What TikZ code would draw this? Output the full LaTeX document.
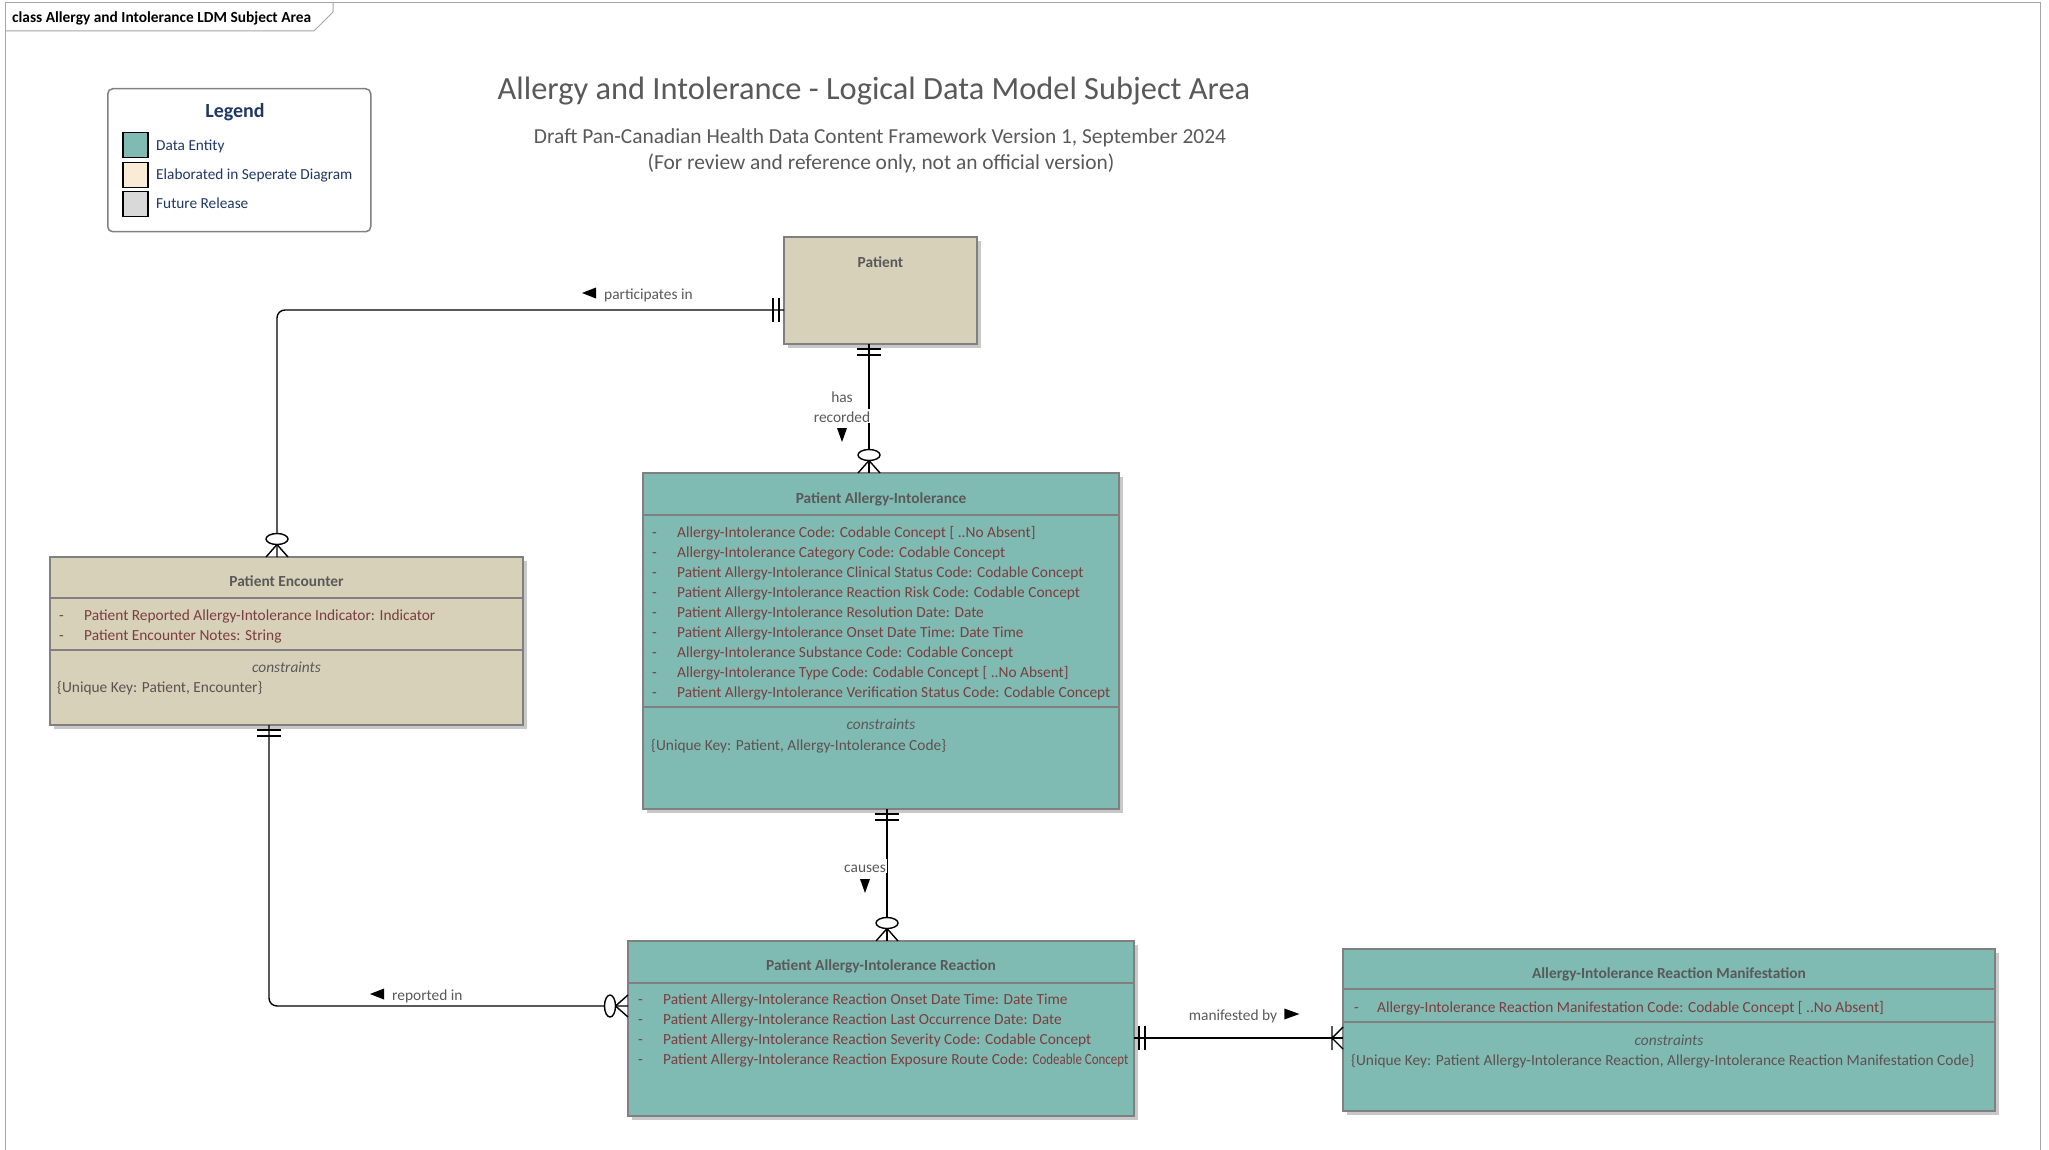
\documentclass[tikz,border=0pt]{standalone}
\usepackage{fontspec}
\setmainfont{Carlito}
\usetikzlibrary{calc,shadows}

\definecolor{entteal}{RGB}{128,187,179}
\definecolor{enttan}{RGB}{216,209,186}
\definecolor{legcream}{RGB}{250,235,215}
\definecolor{leggrey}{RGB}{217,217,217}
\definecolor{boxline}{RGB}{128,128,128}
\definecolor{shadowcol}{RGB}{200,200,200}
\definecolor{attrcol}{RGB}{122,62,62}
\definecolor{headcol}{RGB}{89,89,89}
\definecolor{keycol}{RGB}{95,80,80}
\definecolor{legblue}{RGB}{31,56,100}
\definecolor{framecol}{RGB}{166,166,166}

\newcommand{\sizept}[1]{\fontsize{#1}{#1}\selectfont}

\tikzset{
  entity/.style={draw=boxline, line width=1.3pt, anchor=north west, inner sep=0pt, outer sep=0pt,
    drop shadow={shadow xshift=4pt, shadow yshift=-4pt, fill=shadowcol, opacity=1}},
  divider/.style={draw=boxline, line width=1.3pt},
  txt/.style={inner sep=0pt, text height=12pt, text depth=0pt},
  ename/.style={txt, font=\sizept{15.4}\bfseries, text=headcol},
  attr/.style={txt, anchor=west, font=\sizept{15.4}, text=attrcol},
  cons/.style={txt, font=\sizept{15.4}\itshape, text=headcol},
  ukey/.style={txt, anchor=west, font=\sizept{15.4}, text=keycol},
  rel/.style={line width=1.4pt, rounded corners=8pt},
  rlabel/.style={txt, font=\sizept{15.4}, text=headcol},
  legtext/.style={txt, anchor=west, font=\sizept{15.3}, text=legblue},
  swatch/.style={draw=black, line width=1.5pt, minimum size=25pt, inner sep=0pt, anchor=north west},
  onlyone/.pic={\draw[line width=1.4pt] (-5,-12) -- (-5,12) (-11,-12) -- (-11,12);},
  zeromany/.pic={\draw[line width=1.4pt] (-12.5,0) -- (0,-11) (-12.5,0) -- (0,11);
     \draw[line width=1.4pt, fill=white] (-18,0) ellipse [x radius=5.5, y radius=11];},
  onemany/.pic={\draw[line width=1.4pt] (-11,-12) -- (-11,12) (-11,0) -- (0,-11) (-11,0) -- (0,11);},
}

\begin{document}
\begin{tikzpicture}[x=1pt, y=-1pt]
\useasboundingbox[fill=white] (0,0) rectangle (2049,1150);

% diagram frame and its name tab
\draw[framecol, line width=1pt] (5,1170) -- (5,3) -- (2040,3) -- (2040,1170);
\draw[framecol, line width=1pt] (5,31) -- (314,31) -- (333,12) -- (333,3);
\node[anchor=west, inner sep=0pt, text height=12pt, text depth=0pt, font=\sizept{15.4}\bfseries] (tab) at (12,17) {class Allergy and Intolerance LDM Subject Area};

% heading
\node[inner sep=0pt, text height=22.7pt, text depth=0pt, font=\sizept{32.4}, text=headcol] (title) at (874,88) {Allergy and Intolerance - Logical Data Model Subject Area};
\node[inner sep=0pt, text height=15.9pt, text depth=0pt, font=\sizept{21.4}, text=headcol] (sub1) at (880,136) {Draft Pan-Canadian Health Data Content Framework Version 1, September 2024};
\node[inner sep=0pt, text height=15.9pt, text depth=0pt, font=\sizept{21.4}, text=headcol] (sub2) at (881,162) {(For review and reference only, not an official version)};

% legend
\node[draw=boxline, line width=1.5pt, rounded corners=5pt, minimum width=263pt, minimum height=143pt, anchor=north west, inner sep=0pt] (legend) at (107,88) {};
\node[inner sep=0pt, text height=12.4pt, text depth=0pt, font=\sizept{20}\bfseries, text=legblue] (legtitle) at (235,111) {Legend};
\node[swatch, fill=entteal] (swA) at (122,132) {};
\node[swatch, fill=legcream] (swB) at (122,162) {};
\node[swatch, fill=leggrey] (swC) at (122,191) {};
\node[legtext] (legA) at (156,145) {Data Entity};
\node[legtext] (legB) at (156,174) {Elaborated in Seperate Diagram};
\node[legtext] (legC) at (156,203) {Future Release};

% ---------- entities ----------
% Patient
\node[entity, fill=enttan, minimum width=193pt, minimum height=107pt] (patient) at (784,237) {};
\node[ename] (patient-t) at (880.5,261) {Patient};

% Patient Encounter
\node[entity, fill=enttan, minimum width=473pt, minimum height=168pt] (pe) at (50,557) {};
\node[ename] (pe-t) at (286.5,580) {Patient Encounter};
\draw[divider] (pe.west |- 0,598) -- (pe.east |- 0,598);
\draw[divider] (pe.west |- 0,650) -- (pe.east |- 0,650);
\foreach \t [count=\i] in {{Patient Reported Allergy-Intolerance Indicator: Indicator},{Patient Encounter Notes: String}} {
  \node[attr] (pe-d\i) at (59,594+20*\i) {-};
  \node[attr] (pe-a\i) at (84,594+20*\i) {\t};
}
\node[cons] (pe-c) at (286.5,666) {constraints};
\node[ukey] (pe-k) at (57,686) {\{Unique Key: Patient, Encounter\}};

% Patient Allergy-Intolerance
\node[entity, fill=entteal, minimum width=476pt, minimum height=336pt] (pai) at (643,473) {};
\node[ename] (pai-t) at (881,497) {Patient Allergy-Intolerance};
\draw[divider] (pai.west |- 0,515) -- (pai.east |- 0,515);
\draw[divider] (pai.west |- 0,707) -- (pai.east |- 0,707);
\foreach \t [count=\i] in {
  {Allergy-Intolerance Code: Codable Concept [ ..No Absent]},
  {Allergy-Intolerance Category Code: Codable Concept},
  {Patient Allergy-Intolerance Clinical Status Code: Codable Concept},
  {Patient Allergy-Intolerance Reaction Risk Code: Codable Concept},
  {Patient Allergy-Intolerance Resolution Date: Date},
  {Patient Allergy-Intolerance Onset Date Time: Date Time},
  {Allergy-Intolerance Substance Code: Codable Concept},
  {Allergy-Intolerance Type Code: Codable Concept [ ..No Absent]},
  {Patient Allergy-Intolerance Verification Status Code: Codable Concept}} {
  \node[attr] (pai-d\i) at (652,511+20*\i) {-};
  \node[attr] (pai-a\i) at (677,511+20*\i) {\t};
}
\node[cons] (pai-c) at (881,723) {constraints};
\node[ukey] (pai-k) at (651,744) {\{Unique Key: Patient, Allergy-Intolerance Code\}};

% Patient Allergy-Intolerance Reaction
\node[entity, fill=entteal, minimum width=506pt, minimum height=175pt] (pair) at (628,941) {};
\node[ename] (pair-t) at (881,964) {Patient Allergy-Intolerance Reaction};
\draw[divider] (pair.west |- 0,983) -- (pair.east |- 0,983);
\foreach \t [count=\i] in {
  {Patient Allergy-Intolerance Reaction Onset Date Time: Date Time},
  {Patient Allergy-Intolerance Reaction Last Occurrence Date: Date},
  {Patient Allergy-Intolerance Reaction Severity Code: Codable Concept},
  {Patient Allergy-Intolerance Reaction Exposure Route Code: \scalebox{0.84}[1]{Codeable Concept}}} {
  \node[attr] (pair-d\i) at (638,978.5+20*\i) {-};
  \node[attr] (pair-a\i) at (663,978.5+20*\i) {\t};
}

% Allergy-Intolerance Reaction Manifestation
\node[entity, fill=entteal, minimum width=652pt, minimum height=162pt] (parm) at (1343,949) {};
\node[ename] (parm-t) at (1669,972) {Allergy-Intolerance Reaction Manifestation};
\draw[divider] (parm.west |- 0,989) -- (parm.east |- 0,989);
\draw[divider] (parm.west |- 0,1022) -- (parm.east |- 0,1022);
\node[attr] (parm-d1) at (1354,1006) {-};
\node[attr] (parm-a1) at (1377,1006) {Allergy-Intolerance Reaction Manifestation Code: Codable Concept [ ..No Absent]};
\node[cons] (parm-c) at (1669,1039) {constraints};
\node[ukey] (parm-k) at (1351,1059) {\{Unique Key: Patient Allergy-Intolerance Reaction, Allergy-Intolerance Reaction Manifestation Code\}};

% ---------- relationships ----------
% Patient participates in Patient Encounter
\draw[rel] ($(patient.north west)+(0,73)$) -| ($(pe.north west)+(227,0)$);
\pic at ($(patient.north west)+(0,73)$) {onlyone};
\pic[rotate=-90] at ($(pe.north west)+(227,0)$) {zeromany};
\node[rlabel, anchor=west] (lbl-part) at (604,293) {participates in};
\fill ($(lbl-part.west)+(-8,-5.5)$) -- ($(lbl-part.west)+(-8,5.5)$) -- ($(lbl-part.west)+(-22,0)$) -- cycle;

% Patient has recorded Patient Allergy-Intolerance
\draw[rel] ($(patient.south west)+(85,0)$) -- ($(pai.north west)+(226,0)$);
\pic[rotate=90] at ($(patient.south west)+(85,0)$) {onlyone};
\pic[rotate=-90] at ($(pai.north west)+(226,0)$) {zeromany};
\node[rlabel] (lbl-has) at (842,396) {has};
\node[rlabel, fill=white, inner sep=1pt] (lbl-rec) at (842,416) {recorded};
\fill ($(lbl-rec.center)+(-5,12)$) -- ($(lbl-rec.center)+(5,12)$) -- ($(lbl-rec.center)+(0,26)$) -- cycle;

% Patient Encounter reported in Patient Allergy-Intolerance Reaction
\draw[rel] ($(pe.south west)+(219,0)$) |- ($(pair.north west)+(0,65)$);
\pic[rotate=90] at ($(pe.south west)+(219,0)$) {onlyone};
\pic at ($(pair.north west)+(0,65)$) {zeromany};
\node[rlabel, anchor=west] (lbl-rep) at (392,994) {reported in};
\fill ($(lbl-rep.west)+(-8,-5.5)$) -- ($(lbl-rep.west)+(-8,5.5)$) -- ($(lbl-rep.west)+(-22,0)$) -- cycle;

% Patient Allergy-Intolerance causes Patient Allergy-Intolerance Reaction
\draw[rel] ($(pai.south west)+(244,0)$) -- ($(pair.north west)+(259,0)$);
\pic[rotate=90] at ($(pai.south west)+(244,0)$) {onlyone};
\pic[rotate=-90] at ($(pair.north west)+(259,0)$) {zeromany};
\node[rlabel, fill=white, inner sep=1pt] (lbl-cau) at (865,866) {causes};
\fill ($(lbl-cau.center)+(-5,13)$) -- ($(lbl-cau.center)+(5,13)$) -- ($(lbl-cau.center)+(0,27)$) -- cycle;

% Patient Allergy-Intolerance Reaction manifested by Allergy-Intolerance Reaction Manifestation
\draw[rel] ($(pair.north east)+(0,97)$) -- ($(parm.north west)+(0,89)$);
\pic[rotate=180] at ($(pair.north east)+(0,97)$) {onlyone};
\pic at ($(parm.north west)+(0,89)$) {onemany};
\node[rlabel] (lbl-man) at (1233,1014) {manifested by};
\fill ($(lbl-man.east)+(7,-5.5)$) -- ($(lbl-man.east)+(7,5.5)$) -- ($(lbl-man.east)+(22,0)$) -- cycle;

\end{tikzpicture}
\end{document}
